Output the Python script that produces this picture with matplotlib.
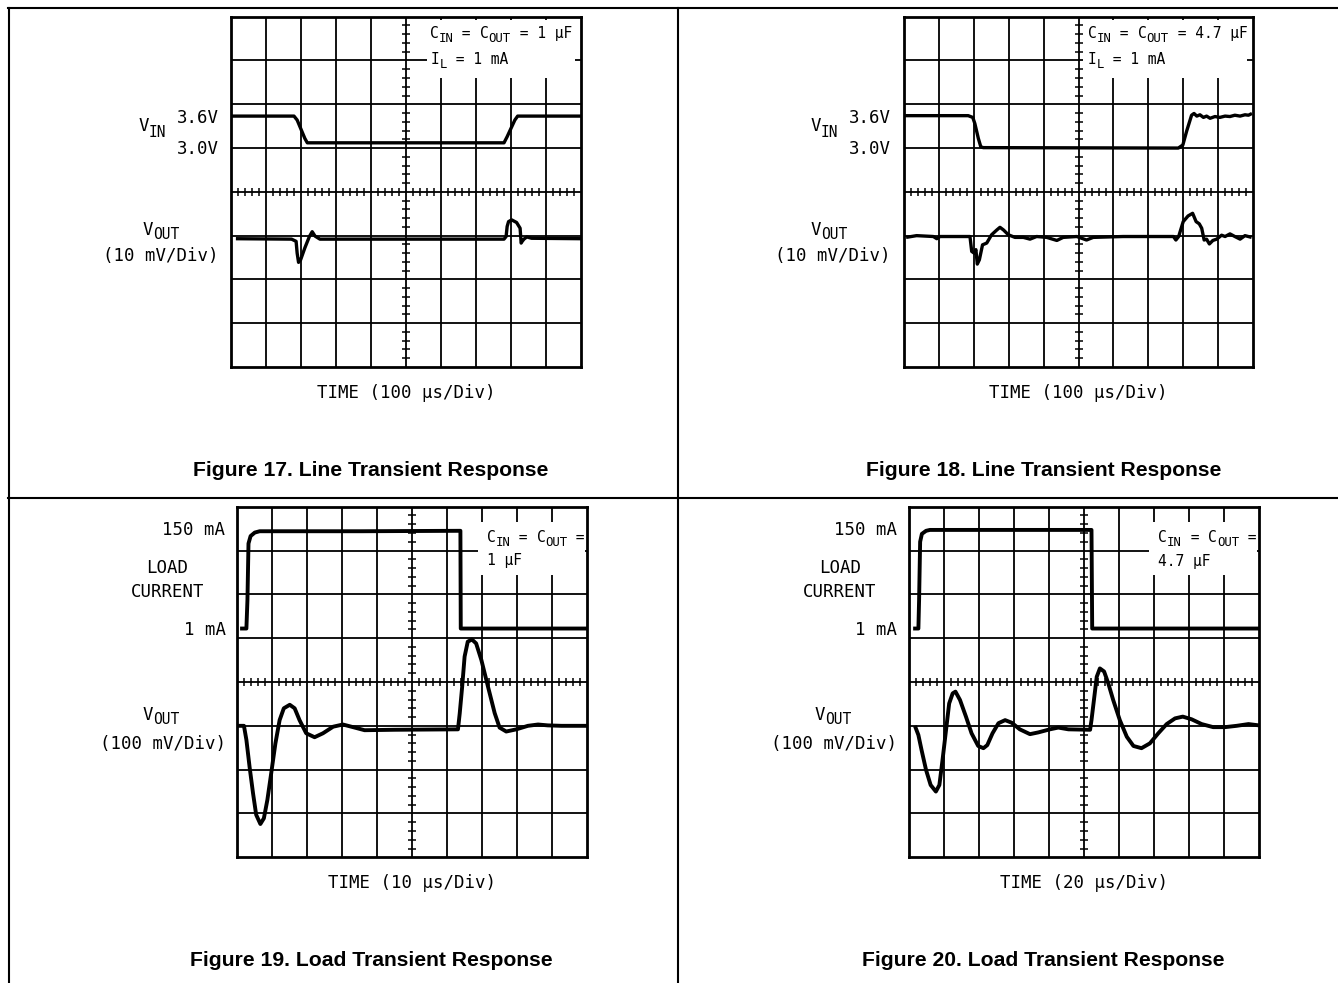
import matplotlib
matplotlib.use("Agg")
import matplotlib.pyplot as plt
from matplotlib import font_manager
from matplotlib.patches import Rectangle
from matplotlib.lines import Line2D
from matplotlib.collections import LineCollection

W, H, DPI = 1338, 983, 100


def pick_font(*names):
    for n in names:
        try:
            font_manager.findfont(font_manager.FontProperties(family=n),
                                  fallback_to_default=False)
            return n
        except ValueError:
            pass
    return "DejaVu Sans"


MONO = pick_font("DejaVu Sans Mono", "Liberation Mono")
SANS = pick_font("Liberation Sans", "Arial", "DejaVu Sans")
MONO_ADV = 0.602  # advance width of a monospaced glyph, in em

# ---------------------------------------------------------------------------
# Scope traces, in screen divisions (time: 0..10 div, amplitude: 0..8 div)
# ---------------------------------------------------------------------------
# Figure 17: line transient, CIN = COUT = 1 uF
fig17_vin_t = [0.00, 1.80, 1.89, 2.11, 2.18, 7.80, 7.89, 8.11, 8.19, 10.00]
fig17_vin_v = [5.73, 5.73, 5.64, 5.22, 5.12, 5.12, 5.26, 5.64, 5.73, 5.73]
fig17_vout_t = [0.14, 1.73, 1.86, 1.89, 1.93, 1.99, 2.11, 2.24, 2.32, 2.40,
                2.54, 7.80, 7.86, 7.89, 7.93, 8.02, 8.16, 8.26, 8.29, 8.32,
                8.37, 8.45, 8.59, 10.00]
fig17_vout_v = [2.93, 2.92, 2.87, 2.60, 2.39, 2.45, 2.72, 2.98, 3.09, 2.99,
                2.92, 2.92, 2.98, 3.21, 3.32, 3.36, 3.30, 3.17, 2.83, 2.87,
                2.92, 2.97, 2.94, 2.93]

# Figure 18: line transient, CIN = COUT = 4.7 uF
fig18_vin_t = [0.00, 1.84, 1.97, 2.03, 2.13, 2.20, 2.27, 7.86, 7.99, 8.10,
               8.24, 8.31, 8.39, 8.48, 8.58, 8.67, 8.77, 8.91, 9.05, 9.20,
               9.34, 9.48, 9.63, 9.77, 9.87, 9.97]
fig18_vin_v = [5.74, 5.74, 5.70, 5.56, 5.22, 5.03, 5.01, 5.00, 5.07, 5.39,
               5.75, 5.79, 5.73, 5.76, 5.70, 5.73, 5.68, 5.72, 5.70, 5.73,
               5.72, 5.75, 5.73, 5.76, 5.75, 5.79]
fig18_vout_t = [0.06, 0.36, 0.84, 0.94, 1.03, 1.89, 1.94, 2.01, 2.06, 2.10,
                2.16, 2.25, 2.37, 2.51, 2.66, 2.75, 2.85, 2.99, 3.18, 3.42,
                3.61, 3.80, 4.09, 4.38, 4.56, 4.95, 5.23, 5.42, 6.28, 7.72,
                7.79, 7.87, 8.00, 8.14, 8.27, 8.37, 8.46, 8.53, 8.60, 8.67,
                8.75, 8.85, 8.96, 9.10, 9.20, 9.34, 9.48, 9.63, 9.77, 9.96]
fig18_vout_v = [2.96, 3.00, 2.98, 2.93, 2.98, 2.98, 2.64, 2.60, 2.68, 2.35,
                2.45, 2.79, 2.83, 3.02, 3.13, 3.19, 3.13, 3.02, 2.96, 2.96,
                2.92, 2.98, 2.96, 2.89, 2.96, 2.98, 2.90, 2.96, 2.98, 2.98,
                2.90, 2.98, 3.32, 3.45, 3.51, 3.32, 3.27, 3.17, 2.90, 2.92,
                2.81, 2.89, 2.92, 3.01, 2.98, 3.04, 2.98, 2.92, 3.00, 2.96]

# Figure 19: load transient, CIN = COUT = 1 uF
fig19_load_t = [0.08, 0.26, 0.29, 0.32, 0.38, 0.50, 0.64, 3.55, 6.38, 6.39, 10.00]
fig19_load_v = [5.22, 5.22, 5.87, 7.16, 7.33, 7.41, 7.44, 7.44, 7.45, 5.22, 5.22]
fig19_vout_t = [0.00, 0.19, 0.26, 0.35, 0.45, 0.54, 0.66, 0.76, 0.86, 0.97,
                1.09, 1.21, 1.33, 1.50, 1.64, 1.78, 1.97, 2.21, 2.45, 2.74,
                3.02, 3.31, 3.64, 4.50, 6.31, 6.36, 6.43, 6.50, 6.59, 6.71,
                6.83, 6.98, 7.17, 7.36, 7.50, 7.69, 7.98, 8.31, 8.60, 8.88,
                9.27, 10.00]
fig19_vout_v = [3.00, 3.00, 2.68, 2.07, 1.46, 0.97, 0.76, 0.89, 1.31, 1.92,
                2.60, 3.13, 3.40, 3.48, 3.40, 3.13, 2.83, 2.74, 2.83, 2.98,
                3.03, 2.97, 2.90, 2.91, 2.92, 3.28, 3.89, 4.58, 4.92, 4.97,
                4.88, 4.50, 3.89, 3.29, 2.96, 2.87, 2.92, 3.00, 3.03, 3.01,
                3.00, 3.00]

# Figure 20: load transient, CIN = COUT = 4.7 uF
fig20_load_t = [0.11, 0.26, 0.28, 0.31, 0.36, 0.48, 0.59, 5.21, 5.23, 10.00]
fig20_load_v = [5.22, 5.22, 5.87, 7.20, 7.38, 7.45, 7.47, 7.47, 5.22, 5.22]
fig20_vout_t = [0.16, 0.26, 0.35, 0.48, 0.61, 0.76, 0.86, 0.95, 1.05, 1.14,
                1.24, 1.32, 1.45, 1.62, 1.78, 1.97, 2.12, 2.23, 2.38, 2.55,
                2.74, 2.93, 3.16, 3.45, 3.69, 4.02, 4.26, 4.55, 5.17, 5.21,
                5.28, 5.36, 5.45, 5.57, 5.69, 5.83, 6.02, 6.22, 6.41, 6.64,
                6.88, 7.12, 7.36, 7.60, 7.82, 8.07, 8.36, 8.69, 9.03, 9.36,
                9.70, 10.00]
fig20_vout_v = [3.00, 2.79, 2.45, 1.99, 1.65, 1.50, 1.65, 2.22, 2.90, 3.51,
                3.74, 3.78, 3.59, 3.21, 2.83, 2.54, 2.49, 2.56, 2.83, 3.06,
                3.13, 3.07, 2.92, 2.81, 2.85, 2.92, 2.96, 2.92, 2.91, 3.13,
                3.59, 4.12, 4.31, 4.24, 3.97, 3.59, 3.13, 2.75, 2.54, 2.49,
                2.60, 2.83, 3.04, 3.17, 3.21, 3.15, 3.04, 2.97, 2.97, 3.00,
                3.04, 3.01]

captions = ["Figure 17. Line Transient Response",
            "Figure 18. Line Transient Response",
            "Figure 19. Load Transient Response",
            "Figure 20. Load Transient Response"]
time_labels = ["TIME (100 µs/Div)", "TIME (100 µs/Div)",
               "TIME (10 µs/Div)", "TIME (20 µs/Div)"]

# ---------------------------------------------------------------------------
fig = plt.figure(figsize=(W / DPI, H / DPI), dpi=DPI)
fig.patch.set_facecolor("white")


def fx(x):
    return x / W


def fy(y):
    return 1 - y / H


def ftext(x, y, s, size, ha="left", family=None, weight="normal"):
    fig.text(fx(x), fy(y), s, ha=ha, va="baseline", fontsize=size,
             family=family or MONO, fontweight=weight, color="black")


def runs(x, y, parts, size, sub_size, drop):
    """Text with subscripts: parts is a list of (string, is_subscript)."""
    for s, sub in parts:
        fs = sub_size if sub else size
        ftext(x, y + (drop if sub else 0), s, fs)
        x += len(s) * MONO_ADV * fs * DPI / 72.0


def frame_line(x0, y0, x1, y1):
    fig.add_artist(Line2D([fx(x0), fx(x1)], [fy(y0), fy(y1)],
                          transform=fig.transFigure, color="black", lw=1.5))


# Page frame around the four figures
frame_line(8, 8, 1338, 8)
frame_line(8, 498, 1338, 498)
frame_line(8.5, 8, 8.5, 983)
frame_line(678, 8, 678, 983)

GRID_LW = 1.3
TRACE_LW_TOP = 2.4
TRACE_LW_BOT = 2.8


def scope_axes(left, right, top, bottom, box):
    ax = fig.add_axes([fx(left), fy(bottom), (right - left) / W, (bottom - top) / H])
    ax.set_xlim(0, 10)
    ax.set_ylim(0, 8)
    ax.set_xticks([])
    ax.set_yticks([])
    ax.set_facecolor("white")
    for sp in ax.spines.values():
        sp.set_linewidth(2.0)
        sp.set_color("black")
        sp.set_zorder(6)
    for i in range(1, 10):
        ax.axvline(i, color="black", lw=GRID_LW, zorder=1)
    for j in range(1, 8):
        ax.axhline(j, color="black", lw=GRID_LW, zorder=1)
    # graticule minor ticks along the centre axes
    px_x = (right - left) / 10.0
    px_y = (bottom - top) / 8.0
    hx = 4.0 / px_x
    hy = 4.0 / px_y
    segs = []
    for k in range(1, 50):
        if k % 5:
            segs.append([(k * 0.2, 4 - hy), (k * 0.2, 4 + hy)])
    for k in range(1, 40):
        if k % 5:
            segs.append([(5 - hx, k * 0.2), (5 + hx, k * 0.2)])
    ax.add_collection(LineCollection(segs, colors="black", linewidths=1.1, zorder=2))
    bx, by, bw, bh = box
    ax.add_patch(Rectangle((bx, by), bw, bh, facecolor="white", edgecolor="none",
                           zorder=3))
    return ax


def trace(ax, t, v, lw):
    ax.plot(t, v, color="black", lw=lw, solid_joinstyle="round",
            solid_capstyle="butt", zorder=5)


LBL = 12.5    # side / time labels
LBL_SUB = 10.5
ANN = 10.5    # condition annotations
ANN_SUB = 8.8
CAP = 15.2

# ---------------- Figure 17 ----------------
ax17 = scope_axes(231, 581, 16.7, 367, (5.60, 6.59, 4.23, 1.33))
trace(ax17, fig17_vin_t, fig17_vin_v, TRACE_LW_TOP)
trace(ax17, fig17_vout_t, fig17_vout_v, TRACE_LW_TOP)
runs(430, 38.3, [("C", 0), ("IN", 1), (" = ", 0), ("C", 0), ("OUT", 1),
                 (" = 1 µF", 0)], ANN, ANN_SUB, 4)
runs(431, 64.5, [("I", 0), ("L", 1), (" = 1 mA", 0)], ANN, ANN_SUB, 4)
runs(138.5, 131, [("V", 0), ("IN", 1)], LBL, LBL_SUB, 6)
ftext(218.6, 123, "3.6V", LBL, ha="right")
ftext(218.6, 154.5, "3.0V", LBL, ha="right")
runs(143, 235, [("V", 0), ("OUT", 1)], LBL, LBL_SUB, 4)
ftext(218.6, 261, "(10 mV/Div)", LBL, ha="right")
ftext(406, 398, time_labels[0], LBL, ha="center")
ftext(371, 476, captions[0], CAP, ha="center", family=SANS, weight="bold")

# ---------------- Figure 18 ----------------
ax18 = scope_axes(904, 1253, 16.7, 367, (5.13, 6.59, 4.70, 1.33))
trace(ax18, fig18_vin_t, fig18_vin_v, TRACE_LW_TOP)
trace(ax18, fig18_vout_t, fig18_vout_v, TRACE_LW_TOP)
runs(1088, 38.3, [("C", 0), ("IN", 1), (" = ", 0), ("C", 0), ("OUT", 1),
                  (" = 4.7 µF", 0)], ANN, ANN_SUB, 4)
runs(1088, 64.5, [("I", 0), ("L", 1), (" = 1 mA", 0)], ANN, ANN_SUB, 4)
runs(810.6, 131, [("V", 0), ("IN", 1)], LBL, LBL_SUB, 6)
ftext(890.7, 123, "3.6V", LBL, ha="right")
ftext(890.7, 154.5, "3.0V", LBL, ha="right")
runs(810.6, 235, [("V", 0), ("OUT", 1)], LBL, LBL_SUB, 4)
ftext(890.7, 261, "(10 mV/Div)", LBL, ha="right")
ftext(1078.5, 398, time_labels[1], LBL, ha="center")
ftext(1044, 476, captions[1], CAP, ha="center", family=SANS, weight="bold")

# ---------------- Figure 19 ----------------
ax19 = scope_axes(237.3, 587, 506.7, 857.3, (6.88, 6.44, 3.05, 1.22))
trace(ax19, fig19_load_t, fig19_load_v, TRACE_LW_BOT)
trace(ax19, fig19_vout_t, fig19_vout_v, TRACE_LW_BOT)
runs(486.7, 541.7, [("C", 0), ("IN", 1), (" = ", 0), ("C", 0), ("OUT", 1),
                    (" =", 0)], ANN, ANN_SUB, 4)
runs(486.7, 565, [("1 µF", 0)], ANN, ANN_SUB, 4)
ftext(225.5, 535, "150 mA", LBL, ha="right")
ftext(167.5, 573, "LOAD", LBL, ha="center")
ftext(167.5, 597, "CURRENT", LBL, ha="center")
ftext(225.5, 635, "1 mA", LBL, ha="right")
runs(143, 720, [("V", 0), ("OUT", 1)], LBL, LBL_SUB, 4)
ftext(225.5, 749, "(100 mV/Div)", LBL, ha="right")
ftext(412, 888, time_labels[2], LBL, ha="center")
ftext(371, 966, captions[2], CAP, ha="center", family=SANS, weight="bold")

# ---------------- Figure 20 ----------------
ax20 = scope_axes(909.3, 1259, 506.7, 857.3, (6.86, 6.44, 3.07, 1.22))
trace(ax20, fig20_load_t, fig20_load_v, TRACE_LW_BOT)
trace(ax20, fig20_vout_t, fig20_vout_v, TRACE_LW_BOT)
runs(1158.3, 541.7, [("C", 0), ("IN", 1), (" = ", 0), ("C", 0), ("OUT", 1),
                     (" =", 0)], ANN, ANN_SUB, 4)
runs(1158.3, 566, [("4.7 µF", 0)], ANN, ANN_SUB, 4)
ftext(897, 535, "150 mA", LBL, ha="right")
ftext(840, 573, "LOAD", LBL, ha="center")
ftext(840, 597, "CURRENT", LBL, ha="center")
ftext(897, 635, "1 mA", LBL, ha="right")
runs(815, 720, [("V", 0), ("OUT", 1)], LBL, LBL_SUB, 4)
ftext(897, 749, "(100 mV/Div)", LBL, ha="right")
ftext(1084, 888, time_labels[3], LBL, ha="center")
ftext(1043.5, 966, captions[3], CAP, ha="center", family=SANS, weight="bold")

fig.savefig("out.png", dpi=DPI, facecolor="white")
